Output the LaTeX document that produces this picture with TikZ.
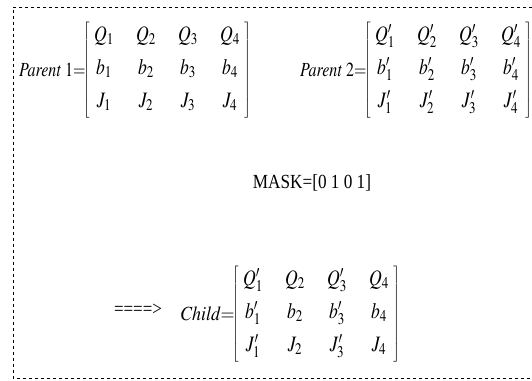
\documentclass[tikz,border=0pt]{standalone}
\usepackage{amsmath}
\usepackage{mathptmx}
\usepackage{graphicx}
\usepackage{fontspec}
\setmainfont{Liberation Serif}
\usetikzlibrary{matrix,positioning}

% narrow type, as in the scanned figure
\newcommand{\nar}[2][0.8]{\scalebox{#1}[1]{#2}}
\newcommand{\gn}[1]{\nar{$#1$}}

\begin{document}
\begin{tikzpicture}[
    x=1pt, y=-1pt,
    chrom/.style={matrix of nodes, left delimiter={[}, right delimiter={]},
        nodes={minimum width=26pt, text height=15pt, text depth=6pt, inner sep=0pt, anchor=center},
        column sep=16pt, row sep=12pt, inner xsep=0pt, inner ysep=6pt,
        font=\fontsize{22}{24}\selectfont},
    lbl/.style={font=\fontsize{20}{22}\selectfont, inner sep=0pt},
    frame/.style={draw, dashed, line width=0.6pt}
]
\useasboundingbox (0,0) rectangle (532,380);
\draw[frame] (532,7) -- (13,7) -- (13,378.5) -- (532,378.5);

\matrix[chrom] (par1) at (167,70) {
    \gn{Q_1} & \gn{Q_2} & \gn{Q_3} & \gn{Q_4} \\
    \gn{b_1} & \gn{b_2} & \gn{b_3} & \gn{b_4} \\
    \gn{J_1} & \gn{J_2} & \gn{J_3} & \gn{J_4} \\
};
\node[lbl, left=5pt of par1] (lpar1) {\nar{$\mathit{Parent}\ 1{=}$}};

\matrix[chrom] (par2) at (448,70) {
    \gn{Q'_1} & \gn{Q'_2} & \gn{Q'_3} & \gn{Q'_4} \\
    \gn{b'_1} & \gn{b'_2} & \gn{b'_3} & \gn{b'_4} \\
    \gn{J'_1} & \gn{J'_2} & \gn{J'_3} & \gn{J'_4} \\
};
\node[lbl, left=5pt of par2] (lpar2) {\nar{$\mathit{Parent}\ 2{=}$}};

\node[lbl] (mask) at (312,183) {\nar[0.86]{MASK=[0 1 0 1]}};

\matrix[chrom] (kid) at (316,314) {
    \gn{Q'_1} & \gn{Q_2} & \gn{Q'_3} & \gn{Q_4} \\
    \gn{b'_1} & \gn{b_2} & \gn{b'_3} & \gn{b_4} \\
    \gn{J'_1} & \gn{J_2} & \gn{J'_3} & \gn{J_4} \\
};
\node[lbl, left=5pt of kid] (lkid) {\nar[0.9]{$\mathit{Child}{=}$}};
\node[lbl] (goes) at (138,310) {\nar[0.85]{====>}};
\end{tikzpicture}
\end{document}
